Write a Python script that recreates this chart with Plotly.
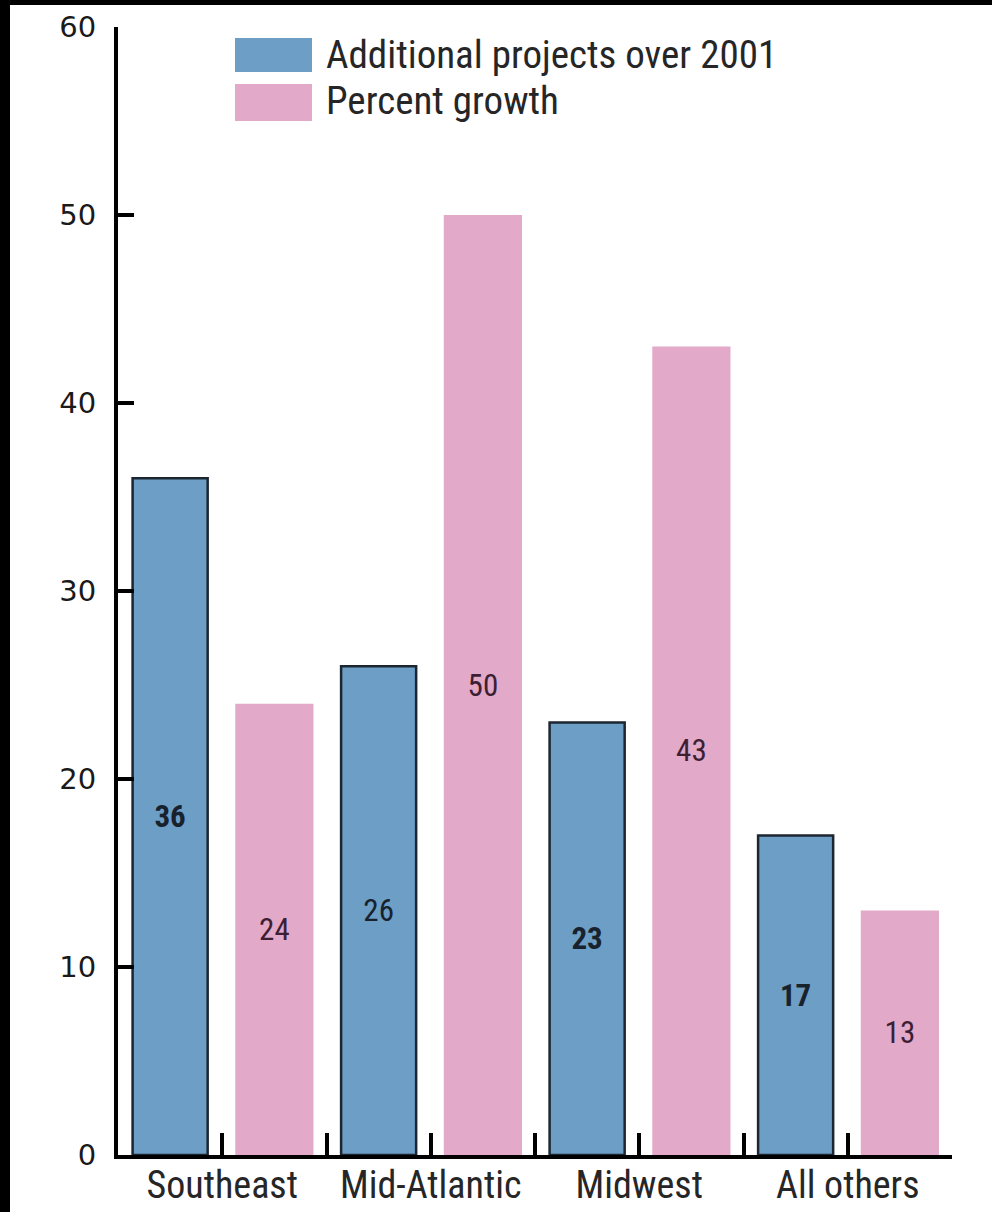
import plotly.graph_objects as go

# Data
regions = ["Southeast", "Mid-Atlantic", "Midwest", "All others"]
additional_projects = [36, 26, 23, 17]
percent_growth = [24, 50, 43, 13]
bold_projects = [True, False, True, True]
y_ticks = [0, 10, 20, 30, 40, 50, 60]

W, H = 992, 1212
ML, MR, MT, MB = 118, 40, 27, 57
PW, PH = W - ML - MR, H - MT - MB

def px_x(px):
    return (px - ML) / PW

def px_y(py):
    return 1 - (py - MT) / PH

NARROW = "Liberation Sans Narrow, Arial Narrow, Roboto Condensed, sans-serif"
BLUE = "#6d9ec6"
PINK = "#e2a9c9"

idx = list(range(len(regions)))
blue_x = [i - 0.25 for i in idx]
pink_x = [i + 0.25 for i in idx]

blue_text = [f"<b>{v}</b>" if b else str(v) for v, b in zip(additional_projects, bold_projects)]
pink_text = [str(v) for v in percent_growth]

fig = go.Figure()
fig.add_trace(go.Bar(
    x=blue_x, y=additional_projects, width=0.36,
    name="Additional projects over 2001",
    marker=dict(color=BLUE, line=dict(color="#1c2631", width=2.5)),
    text=blue_text, textposition="inside", insidetextanchor="middle",
    textangle=0, constraintext="none",
    textfont=dict(family=NARROW, size=31, color="#18222c"),
    showlegend=False, hoverinfo="skip",
))
fig.add_trace(go.Bar(
    x=pink_x, y=percent_growth, width=0.375,
    name="Percent growth",
    marker=dict(color=PINK, line=dict(width=0)),
    text=pink_text, textposition="inside", insidetextanchor="middle",
    textangle=0, constraintext="none",
    textfont=dict(family=NARROW, size=31, color="#3d1f33"),
    showlegend=False, hoverinfo="skip",
))

shapes = [
    # dark frame strips on the left and top edges of the page
    dict(type="rect", xref="paper", yref="paper", x0=px_x(0), x1=px_x(10),
         y0=px_y(H), y1=px_y(0), fillcolor="black", line=dict(width=0), layer="below"),
    dict(type="rect", xref="paper", yref="paper", x0=px_x(0), x1=px_x(W),
         y0=px_y(5), y1=px_y(0), fillcolor="black", line=dict(width=0), layer="below"),
    # legend swatches
    dict(type="rect", xref="paper", yref="paper", x0=px_x(235), x1=px_x(312),
         y0=px_y(72), y1=px_y(38), fillcolor=BLUE, line=dict(width=0)),
    dict(type="rect", xref="paper", yref="paper", x0=px_x(235), x1=px_x(312),
         y0=px_y(121), y1=px_y(84), fillcolor=PINK, line=dict(width=0)),
]

annotations = [
    dict(xref="paper", yref="paper", x=px_x(324), y=px_y(55), xanchor="left", yanchor="middle",
         text="Additional projects over 2001", showarrow=False,
         font=dict(family=NARROW, size=39, color="#262626")),
    dict(xref="paper", yref="paper", x=px_x(324), y=px_y(101), xanchor="left", yanchor="middle",
         text="Percent growth", showarrow=False,
         font=dict(family=NARROW, size=39, color="#262626")),
]

fig.update_layout(
    width=W, height=H,
    margin=dict(l=ML, r=MR, t=MT, b=MB, pad=0),
    paper_bgcolor="white", plot_bgcolor="white",
    barmode="overlay",
    shapes=shapes, annotations=annotations,
    xaxis=dict(
        automargin=False,
        range=[-0.5, len(regions) - 0.5],
        tickmode="array", tickvals=idx, ticktext=regions,
        ticks="inside", ticklen=22, tickwidth=4, tickcolor="black",
        minor=dict(tickmode="array", tickvals=[i + 0.5 for i in idx],
                   ticks="inside", ticklen=22, tickwidth=4, tickcolor="black"),
        showline=True, linecolor="black", linewidth=4,
        showgrid=False, zeroline=False,
        tickfont=dict(family=NARROW, size=38, color="#262626"),
        ticklabelstandoff=-7,
    ),
    yaxis=dict(
        automargin=False,
        range=[0, 60], tickmode="array", tickvals=y_ticks,
        ticks="inside", ticklen=16, tickwidth=4, tickcolor="black",
        showline=True, linecolor="black", linewidth=4,
        showgrid=False, zeroline=False,
        tickfont=dict(family="DejaVu Sans", size=29, color="#1a1a1a"),
        ticklabelstandoff=12,
    ),
)

fig.write_html("out.html")
